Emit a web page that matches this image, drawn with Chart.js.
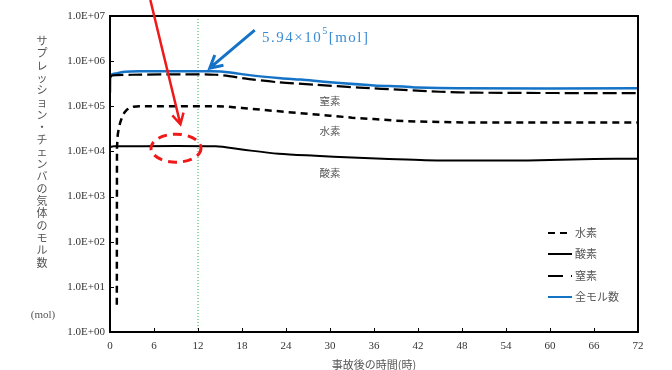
<!DOCTYPE html>
<html lang="ja">
<head>
<meta charset="UTF-8">
<title>サプレッション・チェンバの気体のモル数</title>
<script src="https://cdn.jsdelivr.net/npm/chart.js@4.4.1/dist/chart.umd.min.js"></script>
<style>
  html, body { margin: 0; padding: 0; background: #fff; }
  #wrap { width: 672px; height: 370px; }
</style>
</head>
<body>
<div id="wrap"><canvas id="gasChart" width="672" height="370"></canvas></div>
<script>
// --- data ---
const yTickValues = [1, 10, 100, 1000, 1e4, 1e5, 1e6, 1e7];
const yTickLabels = ['1.0E+00', '1.0E+01', '1.0E+02', '1.0E+03', '1.0E+04', '1.0E+05', '1.0E+06', '1.0E+07'];
const xTickStep = 6;
const markTime = 12; // 事故後12時間

const h2Times  = [0.93, 0.95, 1.05, 1.2, 1.4, 1.65, 1.95, 2.3, 2.7, 3.2, 4, 14.4, 16, 18, 21, 24, 27, 30, 33, 36, 39, 42, 45, 48, 72];
const h2Values = [4, 1.2e4, 2.3e4, 3.3e4, 4.4e4, 5.8e4, 7.2e4, 8.4e4, 9.3e4, 9.8e4, 1.0e5, 1.0e5, 9.8e4, 9.2e4, 8.3e4, 7.5e4, 6.8e4, 6.2e4, 5.6e4, 5.2e4, 4.8e4, 4.6e4, 4.5e4, 4.4e4, 4.4e4];

const o2Times  = [0, 0.5, 14.4, 18, 23, 28, 33, 38, 43, 50, 57, 66, 72];
const o2Values = [1.25e4, 1.3e4, 1.3e4, 1.1e4, 8.9e3, 8.0e3, 7.3e3, 6.8e3, 6.4e3, 6.3e3, 6.3e3, 6.8e3, 6.9e3];

const n2Times  = [0, 0.3, 1, 3, 14.4, 19, 23, 28, 34, 40, 45, 50, 72];
const n2Values = [4.4e5, 4.8e5, 4.9e5, 5.0e5, 5.0e5, 4.0e5, 3.4e5, 3.0e5, 2.6e5, 2.3e5, 2.1e5, 2.0e5, 1.95e5];

const totalTimes  = [0, 0.05, 1, 2, 4, 14, 16.4, 19, 23.3, 26, 30, 36, 40, 42, 47.5, 72];
const totalValues = [2.0e5, 4.8e5, 5.4e5, 5.8e5, 5.94e5, 5.94e5, 5.6e5, 4.9e5, 4.2e5, 3.9e5, 3.4e5, 2.9e5, 2.75e5, 2.6e5, 2.5e5, 2.5e5];

const yTitle = 'サプレッション・チェンバの気体のモル数';
const xTitle = '事故後の時間(時)';

function pts(ts, vs) { return ts.map((t, i) => ({ x: t, y: vs[i] })); }

const serif = '"Liberation Serif", "DejaVu Serif", serif';
const jp = '"Noto Sans CJK JP", sans-serif';
const grey = '#555';

const series = [
  { label: '水素', data: pts(h2Times, h2Values), borderColor: '#000', borderWidth: 2.5, borderDash: [7, 5], tension: 0 },
  { label: '酸素', data: pts(o2Times, o2Values), borderColor: '#000', borderWidth: 2, borderDash: [], tension: 0.3 },
  { label: '窒素', data: pts(n2Times, n2Values), borderColor: '#000', borderWidth: 2.2, borderDash: [14, 5], tension: 0.3 },
  { label: '全モル数', data: pts(totalTimes, totalValues), borderColor: '#1473C6', borderWidth: 2.5, borderDash: [], tension: 0.3 }
];

function arrow(ctx, x0, y0, x1, y1, head) {
  const ang = Math.atan2(y1 - y0, x1 - x0);
  ctx.beginPath();
  ctx.moveTo(x0, y0); ctx.lineTo(x1, y1);
  ctx.moveTo(x1 - head * Math.cos(ang - 0.5), y1 - head * Math.sin(ang - 0.5));
  ctx.lineTo(x1, y1);
  ctx.lineTo(x1 - head * Math.cos(ang + 0.5), y1 - head * Math.sin(ang + 0.5));
  ctx.stroke();
}

const decor = {
  id: 'decor',
  beforeDatasetsDraw(chart) {
    const { ctx, chartArea: a, scales: { x } } = chart;
    const gx = x.getPixelForValue(markTime);
    ctx.save();
    ctx.strokeStyle = '#22B04A';
    ctx.lineWidth = 1;
    ctx.setLineDash([1, 2]);
    ctx.beginPath(); ctx.moveTo(gx, a.top); ctx.lineTo(gx, a.bottom); ctx.stroke();
    ctx.restore();
  },
  afterDatasetsDraw(chart) {
    const { ctx, chartArea: a, scales: { x, y } } = chart;
    ctx.save();
    // frame + inner ticks
    ctx.strokeStyle = '#000';
    ctx.lineWidth = 2;
    ctx.strokeRect(a.left, a.top, a.right - a.left, a.bottom - a.top);
    ctx.lineWidth = 1;
    ctx.beginPath();
    yTickValues.forEach(v => { const py = Math.round(y.getPixelForValue(v)) + 0.5; ctx.moveTo(a.left, py); ctx.lineTo(a.left + 4, py); });
    for (let t = 0; t <= 72; t += xTickStep) { const px = Math.round(x.getPixelForValue(t)) + 0.5; ctx.moveTo(px, a.bottom); ctx.lineTo(px, a.bottom - 4); }
    ctx.stroke();

    // y axis title, vertical
    ctx.fillStyle = grey;
    ctx.font = '11px ' + jp;
    ctx.textAlign = 'center';
    ctx.textBaseline = 'middle';
    [...yTitle].forEach((c, i) => ctx.fillText(c, 42, 41 + i * 12.3));
    ctx.font = '11px ' + serif;
    ctx.fillText('(mol)', 43, 315);
    // x axis title
    ctx.font = '11px ' + jp;
    ctx.fillText(xTitle, (a.left + a.right) / 2, 365);

    // inline labels
    ctx.font = '10.5px ' + jp;
    ctx.fillText('窒素', x.getPixelForValue(30), y.getPixelForValue(1.3e5));
    ctx.fillText('水素', x.getPixelForValue(30), y.getPixelForValue(2.8e4));
    ctx.fillText('酸素', x.getPixelForValue(30), y.getPixelForValue(3.4e3));

    // legend
    ctx.textAlign = 'left';
    ctx.font = '11px ' + jp;
    const legY = [233, 254, 276, 297];
    series.forEach((s, i) => {
      ctx.strokeStyle = s.borderColor;
      ctx.lineWidth = 2;
      ctx.setLineDash(i === 2 ? [15, 8, 1.5, 10] : s.borderDash);
      ctx.beginPath(); ctx.moveTo(548, legY[i]); ctx.lineTo(572, legY[i]); ctx.stroke();
      ctx.setLineDash([]);
      ctx.fillStyle = grey;
      ctx.fillText(s.label, 575, legY[i]);
    });

    // red callout: dashed ellipse and arrow
    const ex = x.getPixelForValue(9), ey = y.getPixelForValue(1.18e4);
    ctx.strokeStyle = '#F01818';
    ctx.lineWidth = 3;
    ctx.setLineDash([9, 6]);
    ctx.beginPath(); ctx.ellipse(ex, ey, 25, 14, 0, 0, Math.PI * 2); ctx.stroke();
    ctx.setLineDash([]);
    ctx.lineWidth = 2.5;
    arrow(ctx, x.getPixelForValue(5.5), 0, x.getPixelForValue(9.6), y.getPixelForValue(4.0e4), 12);

    // blue callout
    const tipX = x.getPixelForValue(13.6), tipY = y.getPixelForValue(7.0e5);
    ctx.strokeStyle = '#1473C6';
    ctx.lineWidth = 3;
    arrow(ctx, tipX + 45, tipY - 38, tipX, tipY, 14);
    ctx.fillStyle = '#3B8BD4';
    ctx.textBaseline = 'alphabetic';
    ctx.font = '15px ' + serif;
    ctx.letterSpacing = '1.5px';
    let tx = 262;
    ctx.fillText('5.94×10', tx, 42);
    tx += ctx.measureText('5.94×10').width;
    ctx.font = '10px ' + serif;
    ctx.fillText('5', tx, 34);
    tx += ctx.measureText('5').width;
    ctx.font = '15px ' + serif;
    ctx.fillText('[mol]', tx, 42);
    ctx.restore();
  }
};

new Chart(document.getElementById('gasChart'), {
  type: 'line',
  data: {
    datasets: series.map(s => ({
      label: s.label, data: s.data,
      borderColor: s.borderColor, borderWidth: s.borderWidth, borderDash: s.borderDash,
      pointRadius: 0, fill: false, tension: s.tension
    }))
  },
  options: {
    responsive: false,
    animation: false,
    devicePixelRatio: 1,
    layout: { padding: { left: 0, right: 34, top: 16, bottom: 0 } },
    plugins: { legend: { display: false }, tooltip: { enabled: false } },
    scales: {
      x: {
        type: 'linear', min: 0, max: 72,
        grid: { display: false, drawTicks: false }, border: { display: false },
        ticks: { stepSize: xTickStep, maxRotation: 0, padding: 8, color: '#333', font: { family: serif, size: 11 } },
        afterFit(scale) { scale.height = 38; }
      },
      y: {
        type: 'logarithmic', min: 1, max: 1e7,
        grid: { display: false, drawTicks: false }, border: { display: false },
        afterBuildTicks(scale) { scale.ticks = yTickValues.map(v => ({ value: v })); },
        ticks: {
          padding: 5, color: '#333', font: { family: serif, size: 11 },
          callback: v => yTickLabels[yTickValues.indexOf(v)]
        },
        afterFit(scale) { scale.width = 110; }
      }
    }
  },
  plugins: [decor]
});
</script>
</body>
</html>
